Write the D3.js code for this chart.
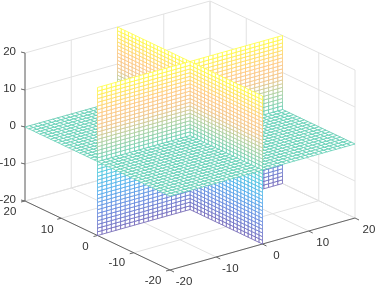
<!DOCTYPE html>
<html><head><meta charset="utf-8">
<script src="https://cdnjs.cloudflare.com/ajax/libs/d3/7.8.5/d3.min.js"></script>
<style>html,body{margin:0;padding:0;background:#fff}svg{display:block;filter:blur(0.35px)}text{font-family:"Liberation Sans",Arial,sans-serif;font-size:11.5px;fill:#333}</style>
</head><body><svg id="c" width="377" height="286"></svg>
<script>
const gridValues=[-20,-19,-18,-17,-16,-15,-14,-13,-12,-11,-10,-9,-8,-7,-6,-5,-4,-3,-2,-1,0,1,2,3,4,5,6,7,8,9,10,11,12,13,14,15,16,17,18,19,20];
const xTicks=[-20,-10,0,10,20];
const yTicks=[-20,-10,0,10,20];
const zTicks=[-20,-10,0,10,20];
const colorStops=[-20,-14,-8,-3,0,5,9,13,17,20];
const colorValues=["#6a5cb4","#5a80dc","#45a8ec","#40c4dc","#58ccb0","#a8cc98","#f0c080","#ffc478","#ffe050","#ffff30"];

const svg=d3.select("#c");
const fx=d3.scaleLinear().domain([-20,20]).range([0,185]);
const fxy=d3.scaleLinear().domain([-20,20]).range([0,-52]);
const gx=d3.scaleLinear().domain([-20,20]).range([145,0]);
const gy=d3.scaleLinear().domain([-20,20]).range([69,0]);
const hy=d3.scaleLinear().domain([-20,20]).range([201,53]);
const color=d3.scaleLinear().domain(colorStops).range(colorValues).clamp(true);
const X0=25;
function P(x,y,z){return [X0+fx(x)+gx(y), hy(z)+fxy(x)+gy(y)];}
const line=d3.line();

// back grid
const grid=svg.append("g").attr("fill","none").attr("stroke","#e2e2e2").attr("stroke-width",1);
const seg=(a,b,s)=>s.append("path").attr("d",line([P(...a),P(...b)]));
zTicks.forEach(z=>{seg([-20,20,z],[20,20,z],grid);seg([20,20,z],[20,-20,z],grid);});
xTicks.forEach(x=>{seg([x,20,-20],[x,20,20],grid);seg([x,-20,-20],[x,20,-20],grid);});
yTicks.forEach(y=>{seg([20,y,-20],[20,y,20],grid);seg([-20,y,-20],[20,y,-20],grid);});

// axes
const ax=svg.append("g").attr("fill","none").attr("stroke","#666").attr("stroke-width",1);
seg([-20,20,-20],[-20,20,20],ax);
seg([-20,20,-20],[-20,-20,-20],ax);
seg([-20,-20,-20],[20,-20,-20],ax);
const tk=svg.append("g").attr("stroke","#666").attr("fill","none");
zTicks.forEach(z=>{const p=P(-20,20,z);tk.append("path").attr("d",line([p,[p[0]-4,p[1]-1]]));
  svg.append("text").attr("x",p[0]-9).attr("y",p[1]+2).attr("text-anchor","end").text(z);});
const yOff={"-20":[-17,14],"-10":[-17,13],"0":[-12,14],"10":[-14,14.5],"20":[-15,14]};
yTicks.forEach(y=>{const p=P(-20,y,-20);tk.append("path").attr("d",line([p,[p[0]-4,p[1]+1]]));
  svg.append("text").attr("x",p[0]+yOff[y][0]).attr("y",p[1]+yOff[y][1]).attr("text-anchor","middle").text(y);});
xTicks.forEach(x=>{const p=P(x,-20,-20);tk.append("path").attr("d",line([p,[p[0]+4,p[1]+2]]));
  svg.append("text").attr("x",p[0]+14).attr("y",p[1]+15).attr("text-anchor","middle").text(x);});

// surfaces: cells of the planes z=0, x=0 and y=0
const steps=d3.pairs(gridValues);
const cells=[];
steps.forEach(([a,b])=>steps.forEach(([c,d])=>{
  cells.push({c:[(a+b)/2,(c+d)/2,0],v:[[a,c,0],[b,c,0],[b,d,0],[a,d,0]]});
  cells.push({c:[0,(a+b)/2,(c+d)/2],v:[[0,a,c],[0,b,c],[0,b,d],[0,a,d]]});
  cells.push({c:[(a+b)/2,0,(c+d)/2],v:[[a,0,c],[b,0,c],[b,0,d],[a,0,d]]});
}));
// painter's order from an eye at x<0, y<0, z>0: split by z, then x, then y
const rank=c=>[Math.sign(c[2]),-Math.sign(c[0]),-Math.sign(c[1])];
cells.sort((p,q)=>{const r=rank(p.c),s=rank(q.c);return (r[0]-s[0])||(r[1]-s[1])||(r[2]-s[2]);});

const mesh=svg.append("g").attr("stroke-width",0.75).attr("stroke-linecap","butt");
cells.forEach(cell=>{
  const pts=cell.v.map(v=>P(...v));
  mesh.append("path").attr("d",line(pts)+"Z").attr("fill","#fff").attr("stroke","none");
  cell.v.forEach((v,i)=>{
    const w=cell.v[(i+1)%4];
    mesh.append("path").attr("d",line([P(...v),P(...w)])).attr("fill","none").attr("stroke",color((v[2]+w[2])/2));
  });
});
</script></body></html>
